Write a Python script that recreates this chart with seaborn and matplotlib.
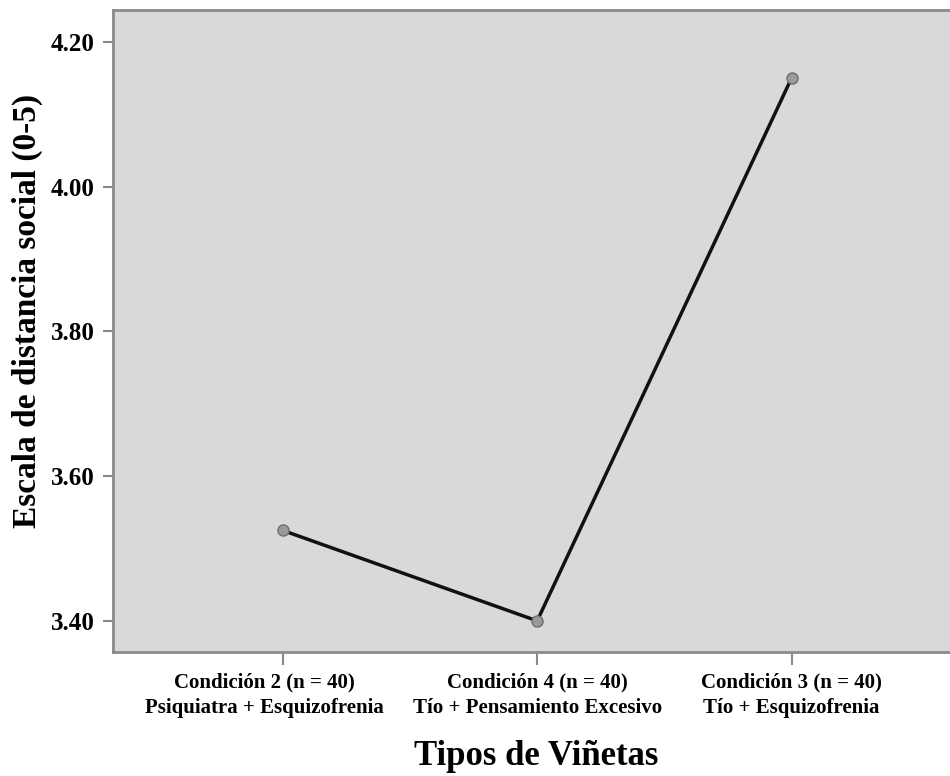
import matplotlib
matplotlib.use("Agg")
import matplotlib.pyplot as plt
import matplotlib.transforms as mtransforms
import seaborn as sns
import pandas as pd

categories = ["Condición 2 (n = 40)\nPsiquiatra + Esquizofrenia",
              "Condición 4 (n = 40)\nTío + Pensamiento Excesivo",
              "Condición 3 (n = 40)\nTío + Esquizofrenia"]
means = [3.525, 3.40, 4.15]
yticks = [3.40, 3.60, 3.80, 4.00, 4.20]

sns.set_theme(style="white")
plt.rcParams['font.family'] = ['Liberation Serif', 'DejaVu Serif']
plt.rcParams['text.color'] = 'black'
plt.rcParams['axes.labelcolor'] = 'black'
plt.rcParams['xtick.color'] = 'black'
plt.rcParams['ytick.color'] = 'black'

df = pd.DataFrame({"x": [0, 1, 2], "y": means})

fig = plt.figure(figsize=(9.5, 7.76), dpi=100)
ax = fig.add_axes([113/950, 1 - 652/776, 1 - 113/950 + 0.01, (652 - 10)/776])
ax.set_facecolor("#d9d9d9")

sns.lineplot(data=df, x="x", y="y", ax=ax, color="#111111", linewidth=2.5,
             marker="o", markersize=8, markerfacecolor="#9a9a9a",
             markeredgecolor="#6e6e6e", markeredgewidth=1.0)

ax.set_xlim(-0.667, 2.66)
ax.set_ylim(3.357, 4.244)
ax.set_xticks([0, 1, 2])
ax.set_xticklabels(categories, fontsize=15, fontweight="bold", linespacing=1.32)
ax.set_yticks(yticks)
ax.set_yticklabels([f"{v:.2f}" for v in yticks], fontsize=18, fontweight="bold")
for s in ["left", "bottom", "top", "right"]:
    ax.spines[s].set_color("#8a8a8a")
    ax.spines[s].set_linewidth(2)
ax.tick_params(axis="y", direction="out", length=7, width=1.5, color="#8a8a8a",
               left=True, pad=6, labelcolor="black")
ax.tick_params(axis="x", direction="out", length=9, width=1.5, color="#8a8a8a",
               bottom=True, pad=6, labelcolor="black")
ax.set_xlabel("Tipos de Viñetas", fontsize=25, fontweight="bold", labelpad=16)
ax.set_ylabel("Escala de distancia social (0-5)", fontsize=24, fontweight="bold", labelpad=6)
ax.yaxis.label.set_y(0.531)

lbl0 = ax.get_xticklabels()[0]
lbl0.set_transform(lbl0.get_transform() + mtransforms.ScaledTranslation(-18/100, 0, fig.dpi_scale_trans))

fig.savefig("out.png", dpi=100)
